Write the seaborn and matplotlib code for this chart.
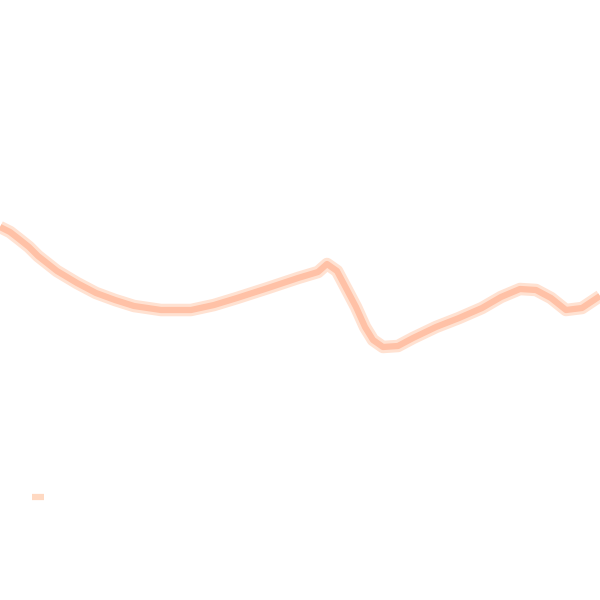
import matplotlib
matplotlib.use("Agg")
import matplotlib.pyplot as plt
import seaborn as sns
import pandas as pd
from matplotlib.lines import Line2D

x = [0, 10, 19, 29, 38, 57, 77, 96, 115, 134, 161, 191, 214, 237, 268, 298, 318, 327,
     337, 346, 356, 365, 373, 383, 398, 413, 436, 459, 482, 501, 520, 536, 551,
     566, 582, 600]
y_px = [227, 232, 239, 247, 256, 271, 283, 293, 300, 306, 310, 310, 305, 298, 288, 278, 272, 264,
        271, 288, 307, 327, 340, 347, 346, 338, 327, 318, 308, 297, 289, 290, 298,
        310, 308, 296]
value = [600 - v for v in y_px]

df = pd.DataFrame({"x": x, "value": value})

sns.set_theme(style="white")
fig = plt.figure(figsize=(6, 6), dpi=100)
ax = fig.add_axes([0, 0, 1, 1])
sns.lineplot(data=df, x="x", y="value", ax=ax, color="#FFE2D2", linewidth=9,
             estimator=None, sort=False, legend=False,
             solid_joinstyle="round", solid_capstyle="butt")
sns.lineplot(data=df, x="x", y="value", ax=ax, color="#FFC1A6", linewidth=4.5,
             estimator=None, sort=False, legend=False,
             solid_joinstyle="round", solid_capstyle="butt")
ax.set_xlim(0, 600)
ax.set_ylim(0, 600)
ax.axis("off")

handle = Line2D([], [], color="#FFD9C2", linewidth=4.5, solid_capstyle="butt")
ax.legend([handle], [" "], loc="center left", bbox_to_anchor=(0.053, 0.17),
          frameon=False, handlelength=0.8, borderpad=0, borderaxespad=0,
          handletextpad=0.1)

fig.savefig("out.png", dpi=100)
